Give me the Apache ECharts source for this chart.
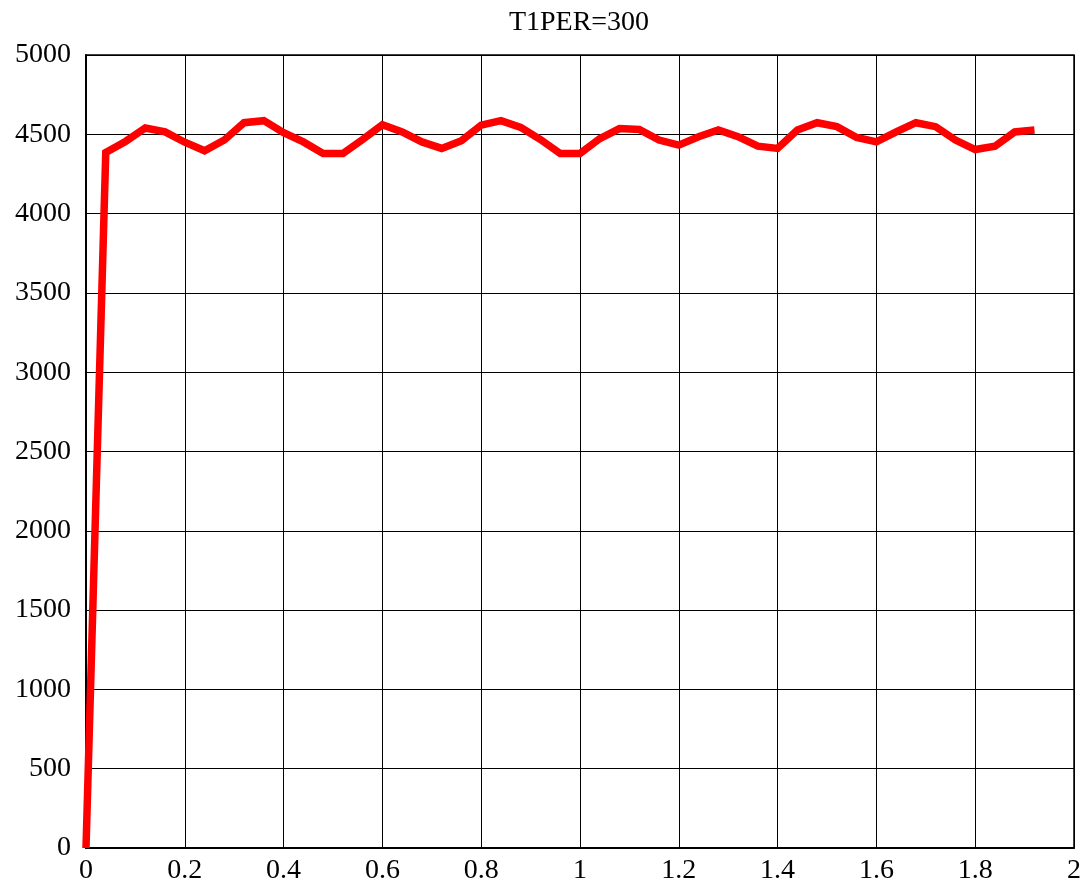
<!DOCTYPE html>
<html>
<head>
<meta charset="utf-8">
<script src="https://cdn.jsdelivr.net/npm/echarts@6/dist/echarts.min.js"></script>
<style>
html,body{margin:0;padding:0;background:#fff;}
#chart{width:1084px;height:891px;}
</style>
</head>
<body>
<div id="chart"></div>
<script>
const titleText = 'T1PER=300';
const xValues = [0,0.04,0.08,0.12,0.16,0.2,0.24,0.28,0.32,0.36,0.4,0.44,0.48,0.52,0.56,0.6,0.64,0.68,0.72,0.76,0.8,0.84,0.88,0.92,0.96,1.0,1.04,1.08,1.12,1.16,1.2,1.24,1.28,1.32,1.36,1.4,1.44,1.48,1.52,1.56,1.6,1.64,1.68,1.72,1.76,1.8,1.84,1.88,1.92];
const yValues = [0,4385,4455,4540,4515,4450,4396,4464,4573,4586,4510,4452,4379,4379,4467,4560,4515,4452,4411,4459,4558,4586,4544,4467,4379,4379,4473,4536,4530,4464,4432,4485,4527,4485,4425,4411,4527,4573,4548,4480,4452,4515,4573,4548,4464,4404,4425,4515,4527];

const chart = echarts.init(document.getElementById('chart'), null, {renderer:'canvas'});
const font = 'Liberation Serif';
chart.setOption({
  animation:false,
  backgroundColor:'#ffffff',
  title:{text:titleText,left:574,top:4,textAlign:'center',
    textStyle:{fontFamily:font,fontSize:28,fontWeight:'normal',color:'#000'}},
  grid:{left:86,top:55,right:9,bottom:43,show:true,borderColor:'#000',borderWidth:1.5,backgroundColor:'transparent'},
  xAxis:{type:'value',min:0,max:2,interval:0.2,
    axisLine:{show:true,lineStyle:{color:'#000',width:2}},
    axisTick:{show:false},
    splitLine:{show:true,lineStyle:{color:'#000',width:1}},
    axisLabel:{fontFamily:font,fontSize:28,color:'#000',margin:9,formatter:v=>String(+v.toFixed(2))}},
  yAxis:{type:'value',min:0,max:5000,interval:500,
    axisLine:{show:true,lineStyle:{color:'#000',width:2}},
    axisTick:{show:false},
    splitLine:{show:true,lineStyle:{color:'#000',width:1}},
    axisLabel:{fontFamily:font,fontSize:28,color:'#000',margin:15,formatter:v=>String(v)}},
  series:[{type:'line',data:xValues.map((x,i)=>[x,yValues[i]]),
    showSymbol:false,lineStyle:{color:'#ff0000',width:7.5,join:'miter'},itemStyle:{color:'#ff0000'}}]
});
</script>
</body>
</html>
